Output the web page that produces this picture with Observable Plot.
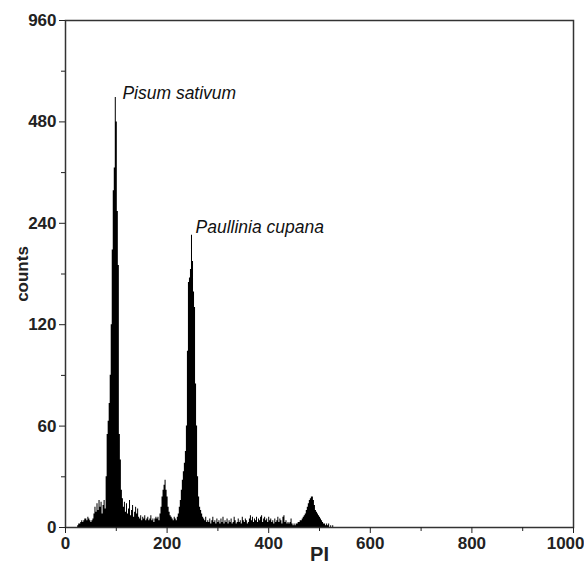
<!DOCTYPE html>
<html>
<head>
<meta charset="utf-8">
<script src="https://cdn.jsdelivr.net/npm/d3@7"></script>
<script src="https://cdn.jsdelivr.net/npm/@observablehq/plot@0.6"></script>
<style>
  html, body { margin: 0; padding: 0; background: #fff; }
  #chart svg g[aria-label="y-axis label"] text { font-weight: bold; font-size: 17px; }
  #chart svg g[aria-label="x-axis label"] text { font-weight: bold; font-size: 20px; }
</style>
</head>
<body>
<div id="chart"></div>
<script>
// Histogram: counts per 2-unit PI channel bin, starting at 0
const binWidth = 2;
const counts = [
  0,0,0,0,0,0,0,0,0,0,            // 0-18
  0,0,1,2,2,3,4,3,4,5,            // 20-38
  5,4,6,5,4,3,4,5,8,12,           // 40-58
  9,14,10,16,12,15,8,13,16,11,    // 60-78
  30,55,62,70,85,120,200,300,350,567, // 80-98
  480,260,180,55,40,22,17,12,15,9,    // 100-118
  14,8,11,16,7,10,13,6,9,12,      // 120-138
  8,11,6,5,7,4,6,5,7,4,           // 140-158
  5,6,4,5,7,4,5,3,5,6,            // 160-178
  5,6,4,8,12,18,22,25,28,22,      // 180-198
  18,12,9,7,6,5,4,6,5,4,          // 200-218
  6,8,12,16,22,28,33,38,45,60,    // 220-238
  100,160,165,175,221,185,150,135,80,60, // 240-258
  30,18,12,10,8,6,5,4,6,3,        // 260-278
  4,3,5,2,4,6,3,4,2,5,            // 280-298
  3,4,2,5,3,6,2,4,3,5,            // 300-318
  2,4,3,5,2,3,6,4,2,3,            // 320-338
  5,3,4,2,6,4,3,5,4,2,            // 340-358
  3,5,7,4,6,3,5,4,6,3,            // 360-378
  5,4,6,7,3,5,6,4,5,3,            // 380-398
  6,4,5,3,4,2,5,3,4,6,            // 400-418
  3,5,4,2,6,7,3,4,2,3,            // 420-438
  2,3,5,2,1,2,1,2,2,3,            // 440-458
  3,4,4,5,6,7,8,10,12,14,         // 460-478
  16,17,18,18,16,13,10,9,8,7,     // 480-498
  6,5,4,3,2,2,1,2,1,2,            // 500-518
  0,1,0,1,0,0,0,0,0,0             // 520-538
];

const yTickValues = [0, 60, 120, 240, 480, 960];
const xTickValues = [0, 200, 400, 600, 800, 1000];
const xMinorTicks = [100, 300, 500, 700, 900];

const peakLabels = ["Pisum sativum", "Paullinia cupana"];
const peakLabelX = [112, 256];
const peakLabelY = [585, 234];

// Axis is linear from 0 to 60, then one equal step per doubling
const f = v => v <= 60 ? v / 60 : 1 + Math.log2(v / 60);
const yTickPos = yTickValues.map(f);
const yMinorPos = d3.pairs(yTickPos).map(([a, b]) => (a + b) / 2);
const yLabelMap = new Map(yTickPos.map((p, i) => [p, String(yTickValues[i])]));

const hist = counts.map((c, i) => ({x: i * binWidth, y: f(c)}));
hist.push({x: counts.length * binWidth, y: 0});

const lastX = xTickValues[xTickValues.length - 1];

const chart = Plot.plot({
  width: 584,
  height: 565,
  marginLeft: 65,
  marginRight: 11,
  marginTop: 20,
  marginBottom: 38,
  style: {fontFamily: "'Liberation Sans', Arial, sans-serif", fontSize: "17px", fontWeight: "bold", color: "#222", background: "#fff"},
  x: {domain: [0, 1000]},
  y: {domain: [0, 5]},
  marks: [
    Plot.areaY(hist, {x: "x", y: "y", curve: "step-after", fill: "#000"}),
    Plot.frame({stroke: "#333", strokeWidth: 1.5}),
    Plot.axisY({ticks: yTickPos, tickFormat: t => yLabelMap.get(t), tickSize: 6, tickPadding: 3,
      label: "counts", labelAnchor: "center", labelArrow: "none", labelOffset: 50}),
    Plot.axisY({ticks: yMinorPos, tickFormat: () => "", tickSize: 4, label: null}),
    Plot.axisX({ticks: xTickValues, tickFormat: d => d === lastX ? "" : String(d), tickSize: 6, tickPadding: 3,
      label: "PI", labelAnchor: "center", labelArrow: "none", labelOffset: 33}),
    Plot.axisX({ticks: xMinorTicks, tickFormat: () => "", tickSize: 4, label: null}),
    Plot.text([lastX], {x: d => d, frameAnchor: "bottom", lineAnchor: "top", dy: 9, dx: 11,
      textAnchor: "end", text: d => String(d), fill: "#222"}),
    Plot.text(peakLabels, {x: peakLabelX, y: peakLabelY.map(f), text: d => d,
      textAnchor: "start", fontStyle: "italic", fontWeight: "normal", fontSize: 17.5, fill: "#111"})
  ]
});
document.getElementById("chart").appendChild(chart);
</script>
</body>
</html>
